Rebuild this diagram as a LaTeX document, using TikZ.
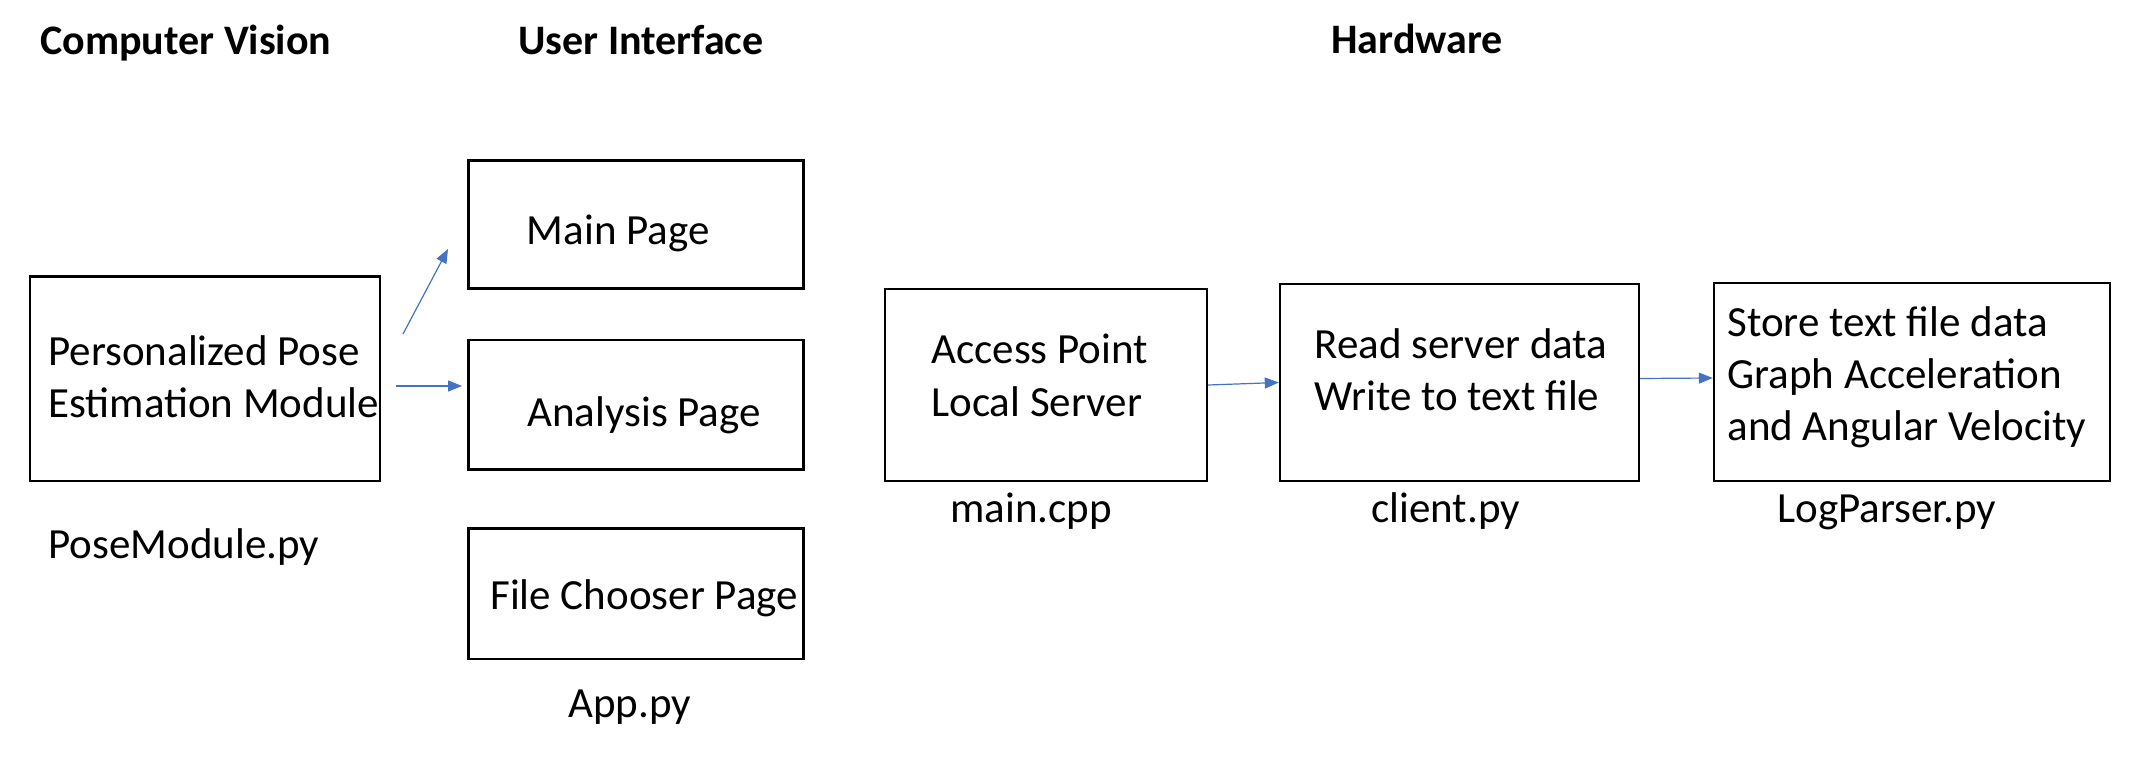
\documentclass[tikz,border=0pt]{standalone}
\usepackage{fontspec}
\setmainfont{Carlito}
\usetikzlibrary{arrows.meta}
\definecolor{arrowblue}{HTML}{4472C4}
\begin{document}
\begin{tikzpicture}[x=0.5pt,y=-0.5pt,
  box/.style={draw=black,line width=1.2pt,inner sep=0pt,rectangle},
  txt/.style={anchor=base west,inner sep=0pt,align=left,font=\fontsize{21.5}{26}\selectfont},
  ttl/.style={anchor=base west,inner sep=0pt,font=\fontsize{21}{25}\selectfont\bfseries},
  arr/.style={draw=arrowblue,line width=0.6pt,-{Triangle[length=7pt,width=5.5pt]}}]
\fill[white] (0,0) rectangle (2136,764);
\useasboundingbox (0,0) rectangle (2136,764);
% titles
\node[ttl] (tcv) at (40,55) {Computer Vision};
\node[ttl] (tui) at (518,55) {User Interface};
\node[ttl] (thw) at (1331,54) {Hardware};
% boxes (sizes in pt = half of pixel units)
\node[box,minimum width=175pt,minimum height=102.2pt] (pose) at (205,378.7) {};
\node[box,minimum width=167.5pt,minimum height=64pt] (main) at (636,224.7) {};
\node[box,minimum width=167.5pt,minimum height=64.7pt] (analysis) at (636,405) {};
\node[box,minimum width=167.5pt,minimum height=65.3pt] (chooser) at (636,593.8) {};
\node[box,minimum width=161pt,minimum height=96pt] (access) at (1046,385) {};
\node[box,minimum width=179.5pt,minimum height=98.5pt] (read) at (1459.5,382.5) {};
\node[box,minimum width=198pt,minimum height=99pt] (store) at (1912,382) {};
% box texts (base = baseline of last line)
\node[txt] (posetxt) at (48,418) {Personalized Pose\\Estimation Module};
\node[txt] (maintxt) at (526.5,245) {Main Page};
\node[txt] (analysistxt) at (527,427) {Analysis Page};
\node[txt] (choosertxt) at (490,609) {File Chooser Page};
\node[txt] (accesstxt) at (931,416) {Access Point\\Local Server};
\node[txt] (readtxt) at (1314,411) {Read server data\\Write to text file};
\node[txt] (storetxt) at (1727,441) {Store text file data\\Graph Acceleration\\and Angular Velocity};
% file labels
\node[txt] (posefile) at (48,558) {PoseModule.py};
\node[txt] (appfile) at (568,717) {App.py};
\node[txt] (mainfile) at (950,522) {main.cpp};
\node[txt] (clientfile) at (1371,522) {client.py};
\node[txt] (logfile) at (1777,522) {LogParser.py};
% arrows
\coordinate (a1s) at (403,334);
\coordinate (a1e) at (448,249);
\coordinate (a2s) at (396,386);
\coordinate (a2e) at (462,386);
\draw[arr] (a1s) -- (a1e);
\draw[arr] (a2s) -- (a2e);
\draw[arr] (access.east) -- (read.west);
\draw[arr] ([yshift=2pt]read.east) -- ([yshift=2pt]store.west);
\end{tikzpicture}
\end{document}
